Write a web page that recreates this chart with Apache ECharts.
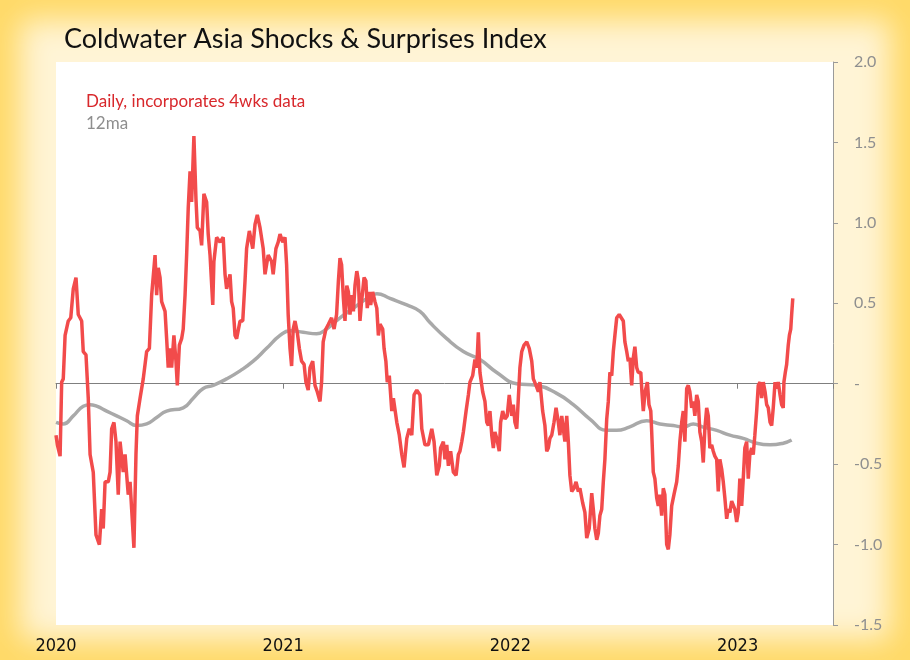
<!DOCTYPE html>
<html>
<head>
<meta charset="utf-8">
<title>Coldwater Asia Shocks & Surprises Index</title>
<script src="https://cdn.jsdelivr.net/npm/echarts@6/dist/echarts.min.js"></script>
<style>
    html, body { margin: 0; padding: 0; }
    #frame {
        width: 910px; height: 660px; position: relative; overflow: hidden;
        background: #fff4d6;
        box-shadow: inset 0 0 30px 20px #ffd966;
    }
    #main { position: absolute; left: 0; top: 0; width: 910px; height: 660px; }
</style>
</head>
<body>
<div id="frame"><div id="main"></div></div>
<script>
//起始年份，x 值为自 2020-01-01 起的年数
var startYear = 2020;
var yTicks = [-1.5, 2.0, 0.5];//min, max, 间隔

//每日指数 (含4周数据) [年数, 数值]
var dailyIndex = [
    [0.000,-0.32],[0.006,-0.38],[0.018,-0.45],[0.025,0.01],[0.032,0.03],[0.040,0.30],[0.054,0.39],[0.065,0.41],
    [0.076,0.59],[0.088,0.66],[0.098,0.43],[0.113,0.39],[0.120,0.20],[0.132,0.18],[0.142,-0.09],[0.150,-0.44],
    [0.164,-0.55],[0.176,-0.94],[0.191,-1.00],[0.201,-0.78],[0.208,-0.90],[0.216,-0.61],[0.230,-0.61],[0.238,-0.55],
    [0.245,-0.28],[0.255,-0.24],[0.264,-0.36],[0.274,-0.69],[0.282,-0.36],[0.296,-0.55],[0.304,-0.44],[0.318,-0.69],
    [0.326,-0.61],[0.333,-0.78],[0.343,-1.02],[0.352,-0.44],[0.358,-0.20],[0.370,-0.09],[0.384,0.03],[0.399,0.20],
    [0.411,0.22],[0.421,0.55],[0.436,0.80],[0.443,0.55],[0.450,0.72],[0.458,0.66],[0.465,0.51],[0.480,0.45],
    [0.487,0.28],[0.494,0.10],[0.502,0.22],[0.509,0.10],[0.519,0.30],[0.528,0.14],[0.534,-0.01],[0.543,0.24],
    [0.553,0.28],[0.560,0.34],[0.568,0.55],[0.575,0.80],[0.582,1.09],[0.590,1.32],[0.597,1.13],[0.607,1.54],
    [0.616,1.15],[0.622,0.97],[0.634,0.95],[0.641,0.86],[0.651,1.18],[0.663,1.13],[0.670,0.93],[0.678,0.80],
    [0.690,0.49],[0.695,0.76],[0.707,0.91],[0.722,0.88],[0.736,0.91],[0.744,0.68],[0.751,0.59],[0.766,0.68],
    [0.773,0.51],[0.780,0.47],[0.788,0.30],[0.795,0.28],[0.810,0.39],[0.822,0.39],[0.832,0.64],[0.839,0.84],
    [0.851,0.95],[0.866,0.84],[0.876,0.99],[0.886,1.05],[0.898,0.97],[0.912,0.84],[0.920,0.68],[0.934,0.80],
    [0.949,0.76],[0.956,0.68],[0.968,0.84],[0.978,0.88],[0.986,0.93],[0.998,0.88],[1.008,0.91],[1.015,0.74],
    [1.022,0.43],[1.030,0.22],[1.037,0.11],[1.044,0.34],[1.052,0.39],[1.062,0.32],[1.071,0.22],[1.081,0.14],
    [1.092,0.12],[1.100,0.01],[1.110,-0.04],[1.118,0.10],[1.130,0.14],[1.140,-0.01],[1.150,-0.05],[1.162,-0.11],
    [1.169,0.01],[1.176,0.26],[1.188,0.34],[1.199,0.37],[1.213,0.41],[1.224,0.34],[1.235,0.43],[1.243,0.64],
    [1.250,0.78],[1.257,0.74],[1.265,0.53],[1.272,0.39],[1.280,0.61],[1.287,0.57],[1.294,0.43],[1.301,0.55],
    [1.309,0.45],[1.316,0.61],[1.324,0.70],[1.331,0.64],[1.338,0.39],[1.345,0.51],[1.356,0.66],[1.364,0.64],
    [1.370,0.47],[1.379,0.57],[1.385,0.49],[1.394,0.57],[1.404,0.51],[1.412,0.47],[1.419,0.30],[1.426,0.37],
    [1.438,0.34],[1.444,0.22],[1.452,0.14],[1.458,0.01],[1.467,0.05],[1.478,-0.17],[1.485,-0.09],[1.500,-0.24],
    [1.511,-0.32],[1.522,-0.44],[1.532,-0.52],[1.544,-0.34],[1.555,-0.28],[1.566,-0.32],[1.576,-0.07],[1.588,-0.04],
    [1.602,-0.07],[1.610,-0.28],[1.624,-0.38],[1.639,-0.38],[1.654,-0.28],[1.664,-0.36],[1.676,-0.57],[1.687,-0.51],
    [1.693,-0.40],[1.705,-0.36],[1.712,-0.47],[1.720,-0.38],[1.727,-0.51],[1.737,-0.42],[1.749,-0.55],[1.761,-0.57],
    [1.771,-0.44],[1.778,-0.42],[1.786,-0.36],[1.793,-0.30],[1.805,-0.17],[1.815,-0.07],[1.822,0.01],[1.834,0.05],
    [1.844,0.15],[1.852,0.10],[1.859,0.32],[1.866,0.07],[1.878,-0.05],[1.888,-0.11],[1.896,-0.24],[1.903,-0.26],
    [1.910,-0.17],[1.918,-0.32],[1.925,-0.40],[1.932,-0.30],[1.940,-0.34],[1.951,-0.42],[1.957,-0.24],[1.966,-0.17],
    [1.976,-0.22],[1.986,-0.20],[1.995,-0.07],[2.006,-0.20],[2.013,-0.13],[2.020,-0.24],[2.028,-0.28],[2.035,-0.09],
    [2.042,0.10],[2.050,0.20],[2.060,0.24],[2.072,0.26],[2.083,0.22],[2.094,0.14],[2.101,0.03],[2.113,-0.01],
    [2.123,-0.05],[2.130,0.01],[2.142,-0.17],[2.152,-0.26],[2.160,-0.42],[2.167,-0.40],[2.174,-0.34],[2.182,-0.32],
    [2.192,-0.24],[2.201,-0.15],[2.211,-0.24],[2.218,-0.32],[2.226,-0.20],[2.233,-0.28],[2.240,-0.36],[2.248,-0.20],
    [2.255,-0.36],[2.262,-0.57],[2.270,-0.67],[2.280,-0.65],[2.289,-0.61],[2.299,-0.67],[2.306,-0.65],[2.318,-0.74],
    [2.328,-0.80],[2.336,-0.96],[2.347,-0.90],[2.358,-0.68],[2.365,-0.78],[2.372,-0.90],[2.380,-0.97],[2.387,-0.93],
    [2.394,-0.82],[2.402,-0.78],[2.409,-0.61],[2.416,-0.47],[2.424,-0.22],[2.431,-0.11],[2.438,0.07],[2.446,0.05],
    [2.453,0.20],[2.460,0.30],[2.468,0.41],[2.479,0.43],[2.497,0.39],[2.504,0.26],[2.512,0.20],[2.519,0.14],
    [2.526,0.16],[2.534,-0.01],[2.541,0.16],[2.548,0.23],[2.556,0.10],[2.563,0.07],[2.574,0.07],[2.579,-0.05],
    [2.585,-0.17],[2.593,-0.05],[2.603,0.01],[2.610,-0.13],[2.618,-0.17],[2.622,-0.30],[2.629,-0.55],[2.636,-0.59],
    [2.644,-0.71],[2.651,-0.76],[2.658,-0.69],[2.666,-0.82],[2.673,-0.65],[2.680,-0.69],[2.688,-1.00],[2.695,-1.03],
    [2.702,-0.94],[2.710,-0.76],[2.720,-0.69],[2.732,-0.61],[2.739,-0.51],[2.746,-0.36],[2.754,-0.24],[2.761,-0.17],
    [2.768,-0.36],[2.776,-0.03],[2.783,-0.01],[2.790,-0.05],[2.798,-0.15],[2.805,-0.11],[2.812,-0.20],[2.820,-0.07],
    [2.827,-0.11],[2.834,-0.30],[2.842,-0.36],[2.849,-0.49],[2.856,-0.28],[2.864,-0.15],[2.871,-0.20],[2.878,-0.40],
    [2.886,-0.38],[2.893,-0.42],[2.900,-0.45],[2.908,-0.47],[2.915,-0.67],[2.922,-0.47],[2.930,-0.53],[2.937,-0.61],
    [2.944,-0.71],[2.952,-0.84],[2.959,-0.78],[2.966,-0.80],[2.974,-0.73],[2.981,-0.73],[2.988,-0.78],[2.996,-0.86],
    [3.003,-0.80],[3.010,-0.59],[3.018,-0.76],[3.025,-0.59],[3.032,-0.40],[3.040,-0.36],[3.047,-0.59],[3.054,-0.44],
    [3.062,-0.40],[3.069,-0.44],[3.076,-0.32],[3.084,-0.17],[3.091,-0.01],[3.099,0.01],[3.106,-0.09],[3.113,0.01],
    [3.121,-0.05],[3.128,-0.13],[3.135,-0.15],[3.143,-0.24],[3.150,-0.26],[3.157,-0.15],[3.165,0.01],[3.172,-0.03],
    [3.179,0.01],[3.187,-0.07],[3.194,-0.13],[3.201,-0.15],[3.204,0.01],[3.210,0.07],[3.216,0.12],[3.223,0.24],
    [3.228,0.30],[3.234,0.34],[3.238,0.43],[3.243,0.53]
];

//12个月移动平均
var movingAvg = [
    [0.000,-0.24],[0.032,-0.25],[0.076,-0.20],[0.120,-0.14],[0.150,-0.13],[0.179,-0.14],[0.223,-0.17],[0.267,-0.20],
    [0.311,-0.23],[0.355,-0.26],[0.399,-0.25],[0.443,-0.21],[0.487,-0.17],[0.560,-0.15],[0.604,-0.09],[0.648,-0.03],
    [0.692,-0.01],[0.751,0.03],[0.810,0.08],[0.868,0.14],[0.927,0.22],[0.986,0.30],[1.030,0.33],[1.088,0.32],
    [1.147,0.31],[1.191,0.34],[1.250,0.41],[1.309,0.47],[1.368,0.53],[1.412,0.56],[1.470,0.53],[1.544,0.49],
    [1.602,0.45],[1.646,0.38],[1.720,0.28],[1.793,0.20],[1.866,0.15],[1.940,0.07],[2.028,0.00],[2.116,-0.01],
    [2.204,-0.06],[2.277,-0.13],[2.350,-0.22],[2.424,-0.29],[2.468,-0.29],[2.523,-0.27],[2.600,-0.23],[2.658,-0.25],
    [2.717,-0.26],[2.761,-0.27],[2.805,-0.25],[2.849,-0.27],[2.908,-0.29],[2.966,-0.32],[3.025,-0.34],[3.084,-0.37],
    [3.143,-0.38],[3.201,-0.37],[3.238,-0.35]
];

var seriesNames = ['Daily, incorporates 4wks data', '12ma'];
var xSpan = 3.42;//x 轴到 2023 年 6 月初

var myChart = echarts.init(document.getElementById('main'));
var fontUI = "Lato, 'Open Sans', sans-serif";

var option = {
    backgroundColor: 'transparent',
    animation: false,
    title: {
        text: 'Coldwater Asia Shocks & Surprises Index',
        left: 59,
        top: 21,
        textStyle: { color: '#111', fontSize: 27, fontWeight: 'normal', fontFamily: fontUI }
    },
    legend: {
        orient: 'vertical',
        left: 76,
        top: 88,
        itemGap: 5,
        itemWidth: 0,
        icon: 'none',
        selectedMode: false,
        textStyle: { fontSize: 17, fontFamily: fontUI },
        data: [
            { name: seriesNames[0], textStyle: { color: '#d8282c' } },
            { name: seriesNames[1], textStyle: { color: '#8e8e8e' } }
        ]
    },
    grid: {
        left: 56, right: 77, top: 62, bottom: 35,
        show: true, backgroundColor: '#ffffff', borderWidth: 0
    },
    xAxis: [
        {
            //零线与年份刻度
            type: 'value', position: 'top', min: 0, max: xSpan, interval: 1,
            axisLine: { show: true, onZero: true, lineStyle: { color: '#7f7f7f', width: 1 } },
            axisTick: { show: true, inside: true, length: 5, lineStyle: { color: '#7f7f7f' } },
            axisLabel: { show: false },
            splitLine: { show: false }
        },
        {
            //底部年份标签
            type: 'value', position: 'bottom', min: 0, max: xSpan, interval: 1,
            axisLine: { show: false },
            axisTick: { show: false },
            splitLine: { show: false },
            axisLabel: {
                margin: 12,
                color: '#111',
                fontSize: 18,
                fontFamily: "'Liberation Sans Narrow', 'DejaVu Sans Condensed', sans-serif",
                formatter: function (v) {
                    return Math.abs(v - Math.round(v)) < 1e-6 ? String(startYear + Math.round(v)) : '';
                }
            }
        }
    ],
    yAxis: {
        type: 'value', position: 'right',
        min: yTicks[0], max: yTicks[1], interval: yTicks[2],
        axisLine: { show: true, onZero: false, lineStyle: { color: '#9a9a9a' } },
        axisTick: { show: true, length: 5, lineStyle: { color: '#9a9a9a' } },
        splitLine: { show: false },
        axisLabel: {
            margin: 21,
            color: '#8f8f8f',
            fontSize: 16,
            fontFamily: fontUI,
            formatter: function (v) {
                return Math.abs(v) < 1e-9 ? '-' : v.toFixed(1);
            }
        }
    },
    series: [
        {
            name: seriesNames[0],
            type: 'line',
            xAxisIndex: 1,
            data: dailyIndex,
            showSymbol: false,
            z: 3,
            lineStyle: { color: '#f24b4b', width: 3.5 },
            itemStyle: { color: '#d8282c' }
        },
        {
            name: seriesNames[1],
            type: 'line',
            xAxisIndex: 1,
            data: movingAvg,
            smooth: true,
            showSymbol: false,
            z: 2,
            lineStyle: { color: '#a9a9a9', width: 3.5 },
            itemStyle: { color: '#8e8e8e' }
        }
    ]
};
myChart.setOption(option);
</script>
</body>
</html>
